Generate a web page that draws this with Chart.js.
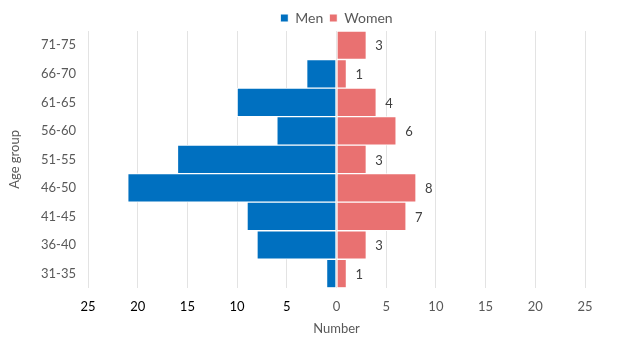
<!DOCTYPE html>
<html>
<head>
<meta charset="utf-8">
<script src="https://cdn.jsdelivr.net/npm/chart.js@4.4.0/dist/chart.umd.min.js"></script>
<style>
  html, body { margin: 0; padding: 0; background: #fff; }
  #wrap { width: 619px; height: 337px; position: relative; }
</style>
</head>
<body>
<div id="wrap"><canvas id="chart"></canvas></div>
<script>
// data (top to bottom as in the picture)
const ageGroups = ['71-75', '66-70', '61-65', '56-60', '51-55', '46-50', '41-45', '36-40', '31-35'];
const men = [0, 3, 10, 6, 16, 21, 9, 8, 1];
const women = [3, 1, 4, 6, 3, 8, 7, 3, 1];
const xTicks = [-25, -20, -15, -10, -5, 0, 5, 10, 15, 20, 25];

const FONT = 'Lato, "Open Sans", sans-serif';

// labels at the end of the women bars
const womenLabels = {
    id: 'womenLabels',
    afterDatasetsDraw(chart) {
        const ctx = chart.ctx;
        const meta = chart.getDatasetMeta(1);
        ctx.save();
        ctx.font = '13px ' + FONT;
        ctx.fillStyle = '#404040';
        ctx.textAlign = 'left';
        ctx.textBaseline = 'middle';
        meta.data.forEach((bar, i) => {
            ctx.fillText(String(women[i]), bar.x + 9, bar.y + 1);
        });
        ctx.restore();
    }
};

// legend sits closer to the plot than chart.js puts it
const tightLegend = {
    id: 'tightLegend',
    afterInit(chart) {
        const lg = chart.legend;
        if (!lg) return;
        const fit = lg.fit.bind(lg);
        lg.fit = function () { fit(); this.height -= 4; };
    }
};

new Chart(document.getElementById('chart'), {
    type: 'bar',
    data: {
        labels: ageGroups,
        datasets: [
            {
                label: 'Men',
                data: men.map(v => -v),
                backgroundColor: '#0070C0',
                borderColor: '#ffffff',
                borderWidth: 1,
                borderSkipped: false,
                barPercentage: 1,
                categoryPercentage: 1
            },
            {
                label: 'Women',
                data: women,
                backgroundColor: '#E97171',
                borderColor: '#ffffff',
                borderWidth: 1,
                borderSkipped: false,
                barPercentage: 1,
                categoryPercentage: 1
            }
        ]
    },
    options: {
        indexAxis: 'y',
        responsive: true,
        maintainAspectRatio: false,
        animation: false,
        layout: { padding: { left: 0, right: 34, top: 5, bottom: 0 } },
        plugins: {
            legend: {
                position: 'top',
                fullSize: false,
                labels: {
                    font: { family: FONT, size: 14 },
                    color: '#595959',
                    usePointStyle: true,
                    pointStyle: 'rect',
                    boxWidth: 8,
                    boxHeight: 8,
                    padding: 6
                }
            },
            tooltip: { enabled: false }
        },
        scales: {
            x: {
                stacked: true,
                min: -25,
                max: 25,
                afterBuildTicks: scale => { scale.ticks = xTicks.map(v => ({ value: v })); },
                grid: { color: '#e3e3e3', drawTicks: false },
                border: { display: false },
                ticks: {
                    padding: 11,
                    font: { family: FONT, size: 13 },
                    color: c => c.tick && c.tick.value < 0 ? '#000000' : '#595959',
                    callback: v => Math.abs(v)
                },
                title: {
                    display: true,
                    text: 'Number',
                    font: { family: FONT, size: 13 },
                    color: '#595959',
                    padding: { top: -4, bottom: 0 }
                }
            },
            y: {
                stacked: true,
                grid: { display: false, drawTicks: false },
                border: { display: false },
                afterFit: scale => { scale.width = 88; },
                ticks: {
                    padding: 12,
                    font: { family: FONT, size: 13 },
                    color: '#595959'
                },
                title: {
                    display: true,
                    text: 'Age group',
                    font: { family: FONT, size: 13 },
                    color: '#595959',
                    padding: { top: 7, bottom: 0 }
                }
            }
        }
    },
    plugins: [womenLabels, tightLegend]
});
</script>
</body>
</html>
